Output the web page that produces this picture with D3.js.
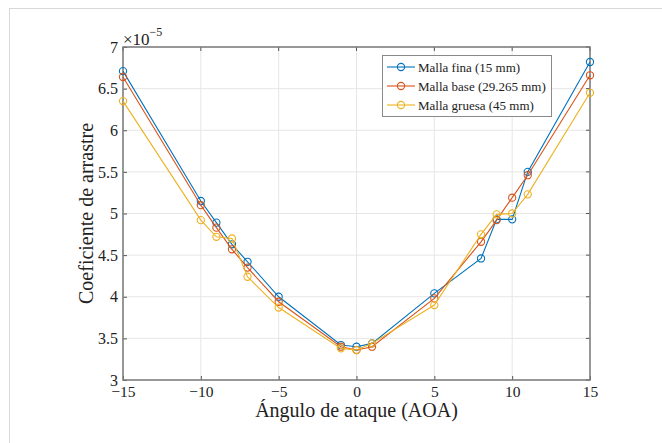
<!DOCTYPE html>
<html lang="es">
<head>
<meta charset="UTF-8">
<title>Coeficiente de arrastre</title>
<style>
  body { margin: 0; background: #fff; }
  svg text { font-family: "Liberation Serif", "DejaVu Serif", serif; fill: #222; }
</style>
</head>
<body>
<script src="https://cdn.jsdelivr.net/npm/d3@7"></script>
<script>
// angulos de ataque
var aoa = [-15, -10, -9, -8, -7, -5, -1, 0, 1, 5, 8, 9, 10, 11, 15];
// coeficientes (x1e-5)
var fina    = [6.71, 5.15, 4.89, 4.63, 4.42, 4.00, 3.42, 3.40, 3.44, 4.04, 4.46, 4.93, 4.93, 5.50, 6.82];
var base    = [6.64, 5.10, 4.83, 4.57, 4.35, 3.94, 3.40, 3.36, 3.40, 3.98, 4.66, 4.92, 5.19, 5.46, 6.66];
var gruesa  = [6.35, 4.92, 4.72, 4.70, 4.24, 3.87, 3.38, 3.36, 3.44, 3.90, 4.75, 4.99, 5.00, 5.23, 6.45];
var seriesNames = ["Malla fina (15 mm)", "Malla base (29.265 mm)", "Malla gruesa (45 mm)"];
var colors = ["#0072BD", "#D95319", "#EDB120"];
var xTicks = [-15, -10, -5, 0, 5, 10, 15];
var yTicks = [3, 3.5, 4, 4.5, 5, 5.5, 6, 6.5, 7];

var w = 662, h = 443;
var pl = 123, pr = 590, pt = 47, pb = 380;

var svg = d3.select("body").append("svg")
    .attr("width", w)
    .attr("height", h);

// marco de la figura
svg.append("rect")
    .attr("x", 9.5).attr("y", 8.5)
    .attr("width", 700).attr("height", 500)
    .attr("fill", "none").attr("stroke", "#d8d8d8");

var x = d3.scaleLinear().domain([-15, 15]).range([pl, pr]);
var y = d3.scaleLinear().domain([3, 7]).range([pb, pt]);

// rejilla
svg.append("g").selectAll("line").data(xTicks).enter().append("line")
    .attr("x1", d => x(d)).attr("x2", d => x(d))
    .attr("y1", pt).attr("y2", pb)
    .attr("stroke", "#e6e6e6").attr("stroke-width", 1);
svg.append("g").selectAll("line").data(yTicks).enter().append("line")
    .attr("x1", pl).attr("x2", pr)
    .attr("y1", d => y(d)).attr("y2", d => y(d))
    .attr("stroke", "#e6e6e6").attr("stroke-width", 1);

// ejes con marcas hacia dentro
var fmt = d => d < 0 ? "\u2212" + Math.abs(d) : String(d);
var xAxis = svg.append("g")
    .attr("transform", "translate(0," + pb + ")")
    .call(d3.axisBottom(x).tickValues(xTicks).tickSizeInner(-4).tickSizeOuter(0).tickPadding(6).tickFormat(fmt));
var yAxis = svg.append("g")
    .attr("transform", "translate(" + pl + ",0)")
    .call(d3.axisLeft(y).tickValues(yTicks).tickSizeInner(-4).tickSizeOuter(0).tickPadding(5).tickFormat(d => String(d)));
[xAxis, yAxis].forEach(function(g) {
    g.select(".domain").remove();
    g.selectAll(".tick line").attr("stroke", "#555");
    g.selectAll("text").attr("font-size", "16px").attr("fill", "#222")
        .attr("font-family", "Liberation Serif, serif");
});
xAxis.selectAll("text").attr("font-size", "15.5px");
// marcas derecha y arriba
svg.append("g").selectAll("line").data(yTicks).enter().append("line")
    .attr("x1", pr).attr("x2", pr - 4)
    .attr("y1", d => y(d)).attr("y2", d => y(d)).attr("stroke", "#555");
svg.append("g").selectAll("line").data(xTicks).enter().append("line")
    .attr("x1", d => x(d)).attr("x2", d => x(d))
    .attr("y1", pt).attr("y2", pt + 4).attr("stroke", "#555");

svg.append("rect")
    .attr("x", pl).attr("y", pt)
    .attr("width", pr - pl).attr("height", pb - pt)
    .attr("fill", "none").attr("stroke", "#7a7a7a").attr("stroke-width", 1.5);

// series
var allSeries = [fina, base, gruesa];
var line = d3.line().x((d, i) => x(aoa[i])).y(d => y(d));
allSeries.forEach(function(s, k) {
    svg.append("path").datum(s)
        .attr("d", line)
        .attr("fill", "none").attr("stroke", colors[k]).attr("stroke-width", 1.1);
    svg.append("g").selectAll("circle").data(s).enter().append("circle")
        .attr("cx", (d, i) => x(aoa[i])).attr("cy", d => y(d))
        .attr("r", 3.6)
        .attr("fill", "none").attr("stroke", colors[k]).attr("stroke-width", 1.1);
});

// exponente
var ex = svg.append("text").attr("x", pl).attr("y", 45).attr("font-size", "17px");
ex.append("tspan").text("\u00d710");
ex.append("tspan").attr("dy", -9).attr("font-size", "12px").text("\u22125");

// etiquetas de ejes
svg.append("text")
    .attr("x", (pl + pr) / 2).attr("y", 417)
    .attr("text-anchor", "middle").attr("font-size", "20px")
    .text("Ángulo de ataque (AOA)");
svg.append("text")
    .attr("transform", "translate(93," + ((pt + pb) / 2) + ") rotate(-90)")
    .attr("text-anchor", "middle").attr("font-size", "20px")
    .text("Coeficiente de arrastre");

// leyenda
var lg = svg.append("g");
lg.append("rect")
    .attr("x", 382.5).attr("y", 55.5).attr("width", 169).attr("height", 61)
    .attr("fill", "#fff").attr("stroke", "#8a8a8a").attr("stroke-width", 1);
seriesNames.forEach(function(name, k) {
    var yy = 67 + k * 19;
    lg.append("line").attr("x1", 387).attr("x2", 415).attr("y1", yy).attr("y2", yy)
        .attr("stroke", colors[k]).attr("stroke-width", 1.1);
    lg.append("circle").attr("cx", 401).attr("cy", yy).attr("r", 3.6)
        .attr("fill", "none").attr("stroke", colors[k]).attr("stroke-width", 1.1);
    lg.append("text").attr("x", 418).attr("y", yy + 4.5).attr("font-size", "13px").text(name);
});
</script>
</body>
</html>
